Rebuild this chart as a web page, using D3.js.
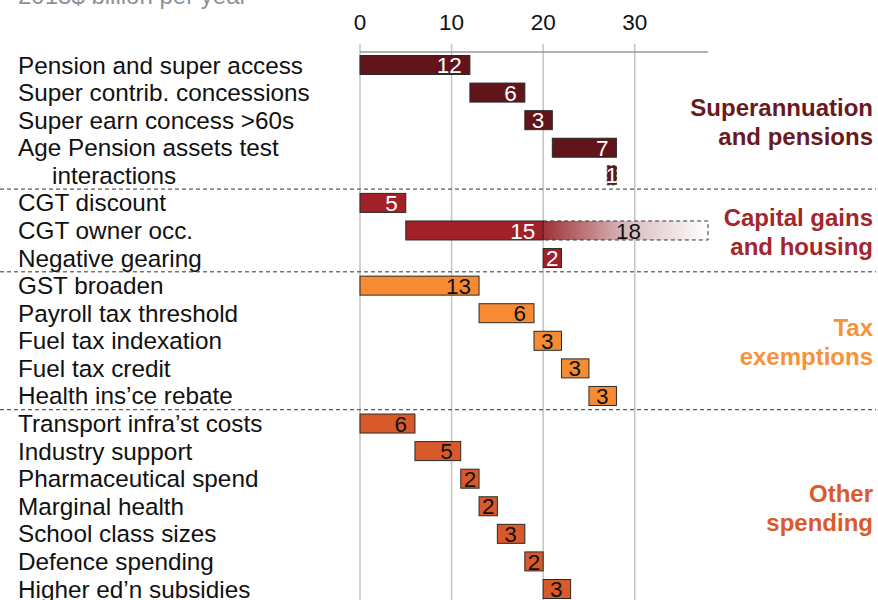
<!DOCTYPE html>
<html><head><meta charset="utf-8">
<script src="https://cdn.jsdelivr.net/npm/d3@7"></script>
<style>
html,body{margin:0;padding:0;background:#fff;}
svg{display:block;font-family:"Liberation Sans",Arial,sans-serif;}
</style></head>
<body>
<svg id="chart" width="878" height="600"></svg>
<script>
// ---- data ----
const title = "2013$ billion per year";
const rowLabels = ["Pension and super access","Super contrib. concessions","Super earn concess >60s","Age Pension assets test","interactions","CGT discount","CGT owner occ.","Negative gearing","GST broaden","Payroll tax threshold","Fuel tax indexation","Fuel tax credit","Health ins\u2019ce rebate","Transport infra\u2019st costs","Industry support","Pharmaceutical spend","Marginal health","School class sizes","Defence spending","Higher ed\u2019n subsidies"];
const labelIndent = [0,0,0,0,1,0,0,0,0,0,0,0,0,0,0,0,0,0,0,0];
const starts = [0,12,18,21,27, 0,5,20, 0,13,19,22,25, 0,6,11,13,15,18,20];
const values = [12,6,3,7,1, 5,15,2, 13,6,3,3,3, 6,5,2,2,3,2,3];
const groupOf = [0,0,0,0,0, 1,1,1, 2,2,2,2,2, 3,3,3,3,3,3,3];
const dashedRows = [4];
const potentialRow = 6, potentialStart = 20, potentialValue = 18;
const groupNames = [["Superannuation","and pensions"],["Capital gains","and housing"],["Tax","exemptions"],["Other","spending"]];
const groupRows = [[0,4],[5,7],[8,12],[13,19]];
const ticks = [0,10,20,30];
const barColors = ["#611419","#a02127","#f68b33","#d85a2a"];
const groupColors = ["#6a1a1f","#a3262b","#f7923a","#d95b2c"];
const labelColors = ["#fff","#fff","#111","#111"];

// ---- chart ----
const svg = d3.select("#chart");
const x = d3.scaleLinear().domain([0,38]).range([360,708]);
const y = d3.scalePoint().domain(d3.range(rowLabels.length)).range([65,589]);
const barH = 19;

// title
svg.append("text").attr("x",18).attr("y",4).attr("fill","#8d9299")
  .attr("font-size",24).text(title);

// gridlines
svg.selectAll("line.grid").data(ticks).join("line").attr("class","grid")
  .attr("x1",d=>x(d)).attr("x2",d=>x(d)).attr("y1",44).attr("y2",600)
  .attr("stroke","#c4c4c4").attr("stroke-width",1.5);
svg.append("line").attr("x1",x(0)).attr("x2",x(38)).attr("y1",52).attr("y2",52)
  .attr("stroke","#999").attr("stroke-width",1.5);
svg.selectAll("text.tick").data(ticks).join("text").attr("class","tick")
  .attr("x",d=>x(d)).attr("y",22).attr("dy","0.35em").attr("text-anchor","middle")
  .attr("font-size",22.5).attr("fill","#111").text(d=>d);

// group separators
const seps = groupRows.slice(1).map(g=>(y(g[0]-1)+y(g[0]))/2);
svg.selectAll("line.sep").data(seps).join("line").attr("class","sep")
  .attr("x1",0).attr("x2",876).attr("y1",d=>d).attr("y2",d=>d)
  .attr("stroke","#333").attr("stroke-width",1).attr("stroke-dasharray","4,3");

// row labels
svg.selectAll("text.row").data(rowLabels).join("text").attr("class","row")
  .attr("x",(d,i)=>18+labelIndent[i]*34).attr("y",(d,i)=>y(i)).attr("dy","0.35em")
  .attr("font-size",24.3).attr("fill","#111").text(d=>d);

// potential gradient bar
const defs = svg.append("defs");
const grad = defs.append("linearGradient").attr("id","pot").attr("x1","0").attr("x2","1");
grad.append("stop").attr("offset","0").attr("stop-color","#a0313a");
grad.append("stop").attr("offset","0.5").attr("stop-color","#d8b9bc");
grad.append("stop").attr("offset","1").attr("stop-color","#ffffff");
svg.append("rect").attr("x",x(potentialStart)).attr("y",y(potentialRow)-barH/2)
  .attr("width",x(potentialStart+potentialValue)-x(potentialStart)).attr("height",barH)
  .attr("fill","url(#pot)").attr("stroke","#333").attr("stroke-width",1).attr("stroke-dasharray","4,3");
svg.append("text").attr("x",(x(potentialStart)+x(potentialStart+potentialValue))/2+3)
  .attr("y",y(potentialRow)).attr("dy","0.36em").attr("text-anchor","middle")
  .attr("font-size",22.5).attr("fill","#111").text(potentialValue);

// bars
const rows = d3.range(rowLabels.length);
svg.selectAll("rect.bar").data(rows).join("rect").attr("class","bar")
  .attr("x",i=>x(starts[i])).attr("y",i=>y(i)-barH/2)
  .attr("width",i=>x(starts[i]+values[i])-x(starts[i])).attr("height",barH)
  .attr("fill",i=>barColors[groupOf[i]])
  .attr("stroke","#2a2a2a").attr("stroke-width",1)
  .attr("stroke-dasharray",i=>dashedRows.includes(i)?"3,2":null);

svg.selectAll("text.val").data(rows).join("text").attr("class","val")
  .attr("x",i=>{const x0=x(starts[i]),x1=x(starts[i]+values[i]);return (x1-x0)<25?(x0+x1)/2:x1-8;})
  .attr("text-anchor",i=>{const w=x(starts[i]+values[i])-x(starts[i]);return w<25?"middle":"end";})
  .attr("y",i=>y(i)).attr("dy","0.36em")
  .attr("font-size",22.5).attr("fill",i=>labelColors[groupOf[i]]).text(i=>values[i]);

// group names
groupNames.forEach((lines,g)=>{
  const c = (y(groupRows[g][0])+y(groupRows[g][1]))/2 + 1.5;
  lines.forEach((t,k)=>{
    svg.append("text").attr("x",873).attr("y",c+(k-0.5)*29).attr("dy","0.36em")
      .attr("text-anchor","end").attr("font-size",24).attr("font-weight","bold")
      .attr("fill",groupColors[g]).text(t);
  });
});
</script>
</body></html>
